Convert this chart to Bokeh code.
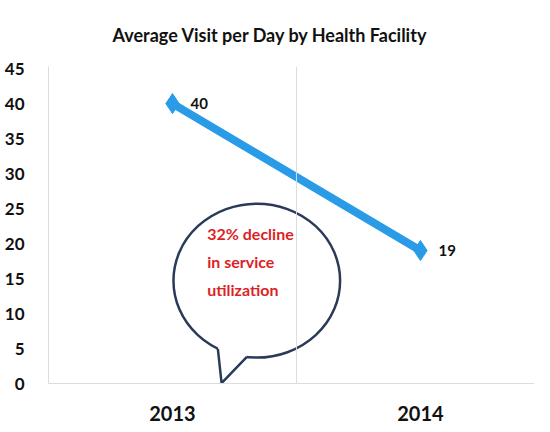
from bokeh.plotting import figure
from bokeh.models import Range1d, FixedTicker, Span, ColumnDataSource, LabelSet
from bokeh.core.properties import value
from bokeh.embed import file_html
from bokeh.resources import INLINE

title_text = "Average Visit per Day by Health Facility"
years = ["2013", "2014"]
visits = [40, 19]
y_ticks = [0, 5, 10, 15, 20, 25, 30, 35, 40, 45]
callout_lines = ["32% decline", "in service", "utilization"]

FONT = "Lato"
xpos = [i + 0.5 for i in range(len(years))]

p = figure(width=534, height=424, output_backend="svg", toolbar_location=None,
           x_range=Range1d(0, 1.96), y_range=Range1d(0, 45.3),
           min_border_left=48, min_border_right=0, min_border_top=66, min_border_bottom=41)
p.outline_line_color = None
p.xgrid.grid_line_color = None
p.ygrid.grid_line_color = None

p.title.text = title_text
p.title.text_font = FONT
p.title.text_font_size = "18px"
p.title.text_font_style = "bold"
p.title.text_color = "#111111"
p.title.align = "left"
p.title.offset = 64
p.title.standoff = 42

# category separators
for xv in [1.0, 1.96]:
    p.add_layout(Span(location=xv, dimension="height", line_color="#dcdcdc", line_width=1))

# axes
p.yaxis.ticker = FixedTicker(ticks=y_ticks)
p.yaxis.major_tick_line_color = None
p.yaxis.minor_tick_line_color = None
p.yaxis.axis_line_color = "#dcdcdc"
p.yaxis.major_label_text_font = FONT
p.yaxis.major_label_text_font_style = "bold"
p.yaxis.major_label_text_font_size = "17px"
p.yaxis.major_label_text_color = "#111111"
p.yaxis.major_label_standoff = 18

p.xaxis.ticker = FixedTicker(ticks=xpos)
p.xaxis.major_label_overrides = {x: y for x, y in zip(xpos, years)}
p.xaxis.major_tick_line_color = None
p.xaxis.minor_tick_line_color = None
p.xaxis.axis_line_color = "#dcdcdc"
p.xaxis.major_label_text_font = FONT
p.xaxis.major_label_text_font_style = "bold"
p.xaxis.major_label_text_font_size = "20px"
p.xaxis.major_label_text_color = "#111111"
p.xaxis.major_label_standoff = 16

# speech bubble callout
p.ellipse(x=0.84, y=14.7, width=0.672, height=22.0, fill_color="white",
          line_color="#2b3a58", line_width=2.5)
p.patch(x=[0.684, 0.698, 0.799, 0.799, 0.684], y=[5.0, 0.05, 3.8, 6.5, 6.5],
        fill_color="white", line_color=None)
p.line(x=[0.683, 0.698, 0.800], y=[4.95, 0.05, 3.8], line_color="#2b3a58", line_width=2.5)
for i, t in enumerate(callout_lines):
    p.text(x=[0.64], y=[21.4 - 4.0 * i], text=[t], text_font=value(FONT), text_font_style="bold",
           text_font_size="16px", text_color="#dd1f26", text_baseline="middle", text_align="left")

# data series
src = ColumnDataSource(dict(x=xpos, y=visits, lbl=[str(v) for v in visits]))
p.line("x", "y", source=src, line_color="#2a9be6", line_width=8)
p.scatter("x", "y", source=src, marker="diamond", size=20, fill_color="#2a9be6", line_color="#2a9be6")
p.add_layout(LabelSet(x="x", y="y", text="lbl", source=src, x_offset=18, y_offset=0,
                      text_font=value(FONT), text_font_style="bold", text_font_size="15px",
                      text_color="#111111", text_baseline="middle"))

open("out.html", "w").write(file_html(p, INLINE))
